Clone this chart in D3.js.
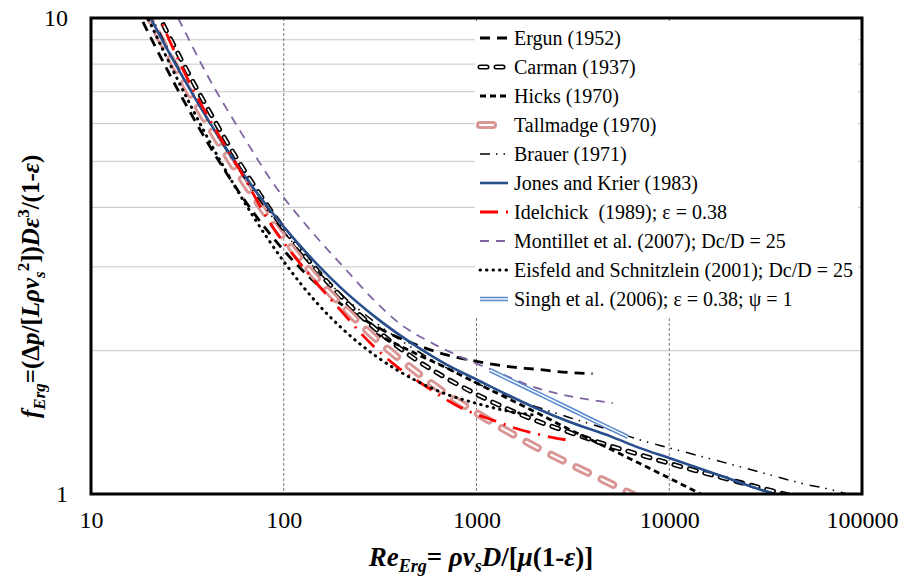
<!DOCTYPE html>
<html>
<head>
<meta charset="utf-8">
<script src="https://cdn.jsdelivr.net/npm/d3@7"></script>
<style>
  body { margin: 0; background: #fff; }
  svg text { font-family: "Liberation Serif", Tinos, "Times New Roman", Times, "DejaVu Serif", serif; }
</style>
</head>
<body>
<div id="chart"></div>
<script>
// Values (Re_Erg, f_Erg)
const ergunRe = [17, 20, 25, 30, 40, 50, 70, 100, 150, 200, 300, 500, 700, 1000, 1500, 2000, 3000, 4000];
const ergunF  = [10.57, 9.25, 7.75, 6.75, 5.5, 4.75, 3.89, 3.25, 2.75, 2.5, 2.25, 2.05, 1.96, 1.9, 1.85, 1.83, 1.8, 1.79];

const carmanRe = [20, 25, 30, 40, 50, 70, 100, 150, 200, 300, 500, 700, 1000, 2000, 3000, 5000, 7000, 10000, 20000, 30000, 40000, 50000];
const carmanF  = [11.13, 9.28, 8.04, 6.49, 5.54, 4.45, 3.61, 2.94, 2.59, 2.22, 1.9, 1.75, 1.62, 1.43, 1.35, 1.26, 1.21, 1.16, 1.075, 1.03, 0.999, 0.976];

const hicksRe = [300, 500, 700, 1000, 2000, 3000, 5000, 7000, 10000, 15000];
const hicksF  = [2.17, 1.96, 1.84, 1.71, 1.49, 1.37, 1.24, 1.16, 1.08, 0.994];

const tallmadgeRe = [19, 22, 25, 30, 40, 50, 70, 100, 150, 200, 300, 500, 700, 1000, 2000, 3000, 5000, 7000];
const tallmadgeF  = [10.46, 9.33, 8.46, 7.38, 6.02, 5.19, 4.21, 3.45, 2.82, 2.49, 2.12, 1.79, 1.62, 1.48, 1.26, 1.16, 1.05, 0.98];

const brauerRe = [19, 20, 25, 30, 40, 50, 70, 100, 150, 200, 300, 500, 700, 1000, 2000, 3000, 5000, 7000, 10000, 20000, 30000, 50000, 70000, 90000];
const brauerF  = [10.73, 10.3, 8.65, 7.54, 6.14, 5.3, 4.31, 3.56, 2.94, 2.62, 2.29, 1.99, 1.84, 1.71, 1.53, 1.45, 1.36, 1.3, 1.25, 1.16, 1.11, 1.05, 1.02, 0.99];

const jonesRe = [20, 25, 30, 40, 50, 70, 100, 150, 200, 300, 500, 700, 1000, 2000, 3000, 5000, 7000, 10000, 20000, 30000, 40000];
const jonesF  = [10.14, 8.56, 7.5, 6.16, 5.34, 4.38, 3.64, 3.03, 2.7, 2.35, 2.03, 1.87, 1.74, 1.52, 1.42, 1.32, 1.25, 1.19, 1.08, 1.02, 0.985];

const idelchickRe = [21, 22.8, 30, 44, 60, 85, 130, 196, 270, 388, 550, 776, 955, 1215, 1540, 2017, 2565, 2900];
const idelchickF  = [10.9, 10.0, 7.8, 5.85, 4.75, 3.71, 2.95, 2.44, 2.11, 1.85, 1.68, 1.54, 1.48, 1.43, 1.38, 1.34, 1.31, 1.3];

const montilletRe = [26, 28.3, 40, 60, 88, 137, 204, 292, 400, 595, 855, 1300, 1960, 3160, 5100];
const montilletF  = [10.7, 10.0, 7.6, 5.75, 4.5, 3.59, 3.0, 2.56, 2.28, 2.07, 1.93, 1.8, 1.68, 1.6, 1.553];

const eisfeldRe = [18, 20, 25, 30, 40, 50, 70, 100, 150, 200, 300, 500, 700, 1000, 1500, 2000];
const eisfeldF  = [10.82, 9.88, 8.18, 7.05, 5.63, 4.78, 3.81, 3.08, 2.51, 2.23, 1.95, 1.72, 1.62, 1.55, 1.49, 1.465];

const singhRe = [1176, 2000, 3000, 4000, 5000, 6100];
const singhF  = [1.82, 1.64, 1.515, 1.43, 1.37, 1.318];

const legendLabels = [
    "Ergun (1952)",
    "Carman (1937)",
    "Hicks (1970)",
    "Tallmadge (1970)",
    "Brauer (1971)",
    "Jones and Krier (1983)",
    "Idelchick  (1989); \u03b5 = 0.38",
    "Montillet et al. (2007); Dc/D = 25",
    "Eisfeld and Schnitzlein (2001); Dc/D = 25",
    "Singh et al. (2006); \u03b5 = 0.38; \u03c8 = 1"
];

const xTicks = [10, 100, 1000, 10000, 100000];
const yTicks = [1, 10];
const yGrid = [2, 3, 4, 5, 6, 7, 8, 9];
const xGrid = [100, 1000, 10000];

// Series table built from the arrays above
const series = [
    { re: ergunRe, f: ergunF },
    { re: carmanRe, f: carmanF },
    { re: hicksRe, f: hicksF },
    { re: tallmadgeRe, f: tallmadgeF },
    { re: brauerRe, f: brauerF },
    { re: jonesRe, f: jonesF },
    { re: idelchickRe, f: idelchickF },
    { re: montilletRe, f: montilletF },
    { re: eisfeldRe, f: eisfeldF },
    { re: singhRe, f: singhF }
].map((s, i) => ({ label: legendLabels[i], points: s.re.map((r, j) => [r, s.f[j]]) }));

// Line styles, one list of strokes per series (drawn in order, e.g. outline + inner white)
const styles = [
    [{ color: "#000", width: 2.8, dash: "10 7" }],
    [{ color: "#000", width: 5, dash: "7 9", cap: "round" }, { color: "#fff", width: 1.8, dash: "7 9", cap: "round" }],
    [{ color: "#000", width: 2.8, dash: "6 4" }],
    [{ color: "#d99694", width: 8, dash: "13 15", cap: "round" }, { color: "#fff", width: 2.2, dash: "13 15", cap: "round" }],
    [{ color: "#000", width: 1.5, dash: "10 6 1.5 6 1.5 7" }],
    [{ color: "#284f8c", width: 2.6 }],
    [{ color: "#ff0000", width: 2.8, dash: "18 8 2 8" }],
    [{ color: "#8064a2", width: 1.8, dash: "9 7" }],
    [{ color: "#000", width: 3, dash: "0.5 6", cap: "round" }],
    [{ color: "#5a8ad0", width: 4.5 }, { color: "#fff", width: 1.4 }]
];

const serif = "'Liberation Serif', Tinos, 'Times New Roman', Times, 'DejaVu Serif', serif";

const W = 906, H = 579;
const plot = { left: 91, right: 862, top: 18, bottom: 494 };

const svg = d3.select("#chart")
    .append("svg")
    .attr("width", W)
    .attr("height", H)
    .style("font-family", serif);

svg.append("rect").attr("width", W).attr("height", H).attr("fill", "#fff");

const x = d3.scaleLog().domain([10, 100000]).range([plot.left, plot.right]);
const y = d3.scaleLog().domain([1, 10]).range([plot.bottom, plot.top]);

// horizontal gridlines
svg.append("g")
    .selectAll("line")
    .data(yGrid)
    .enter()
    .append("line")
    .attr("x1", plot.left)
    .attr("x2", plot.right)
    .attr("y1", d => y(d))
    .attr("y2", d => y(d))
    .attr("stroke", "#c6c6c6")
    .attr("stroke-width", 1);

// vertical dashed gridlines
svg.append("g")
    .selectAll("line")
    .data(xGrid)
    .enter()
    .append("line")
    .attr("x1", d => x(d))
    .attr("x2", d => x(d))
    .attr("y1", plot.top)
    .attr("y2", plot.bottom)
    .attr("stroke", "#555")
    .attr("stroke-width", 0.8)
    .attr("stroke-dasharray", "3 2");

// Legend background hides the grid behind it
const legend = svg.append("g");
legend.append("rect")
    .attr("x", 475)
    .attr("y", 22)
    .attr("width", 383)
    .attr("height", 295)
    .attr("fill", "#fff");

// Curves
svg.append("clipPath")
    .attr("id", "plot-clip")
    .append("rect")
    .attr("x", plot.left)
    .attr("y", plot.top)
    .attr("width", plot.right - plot.left)
    .attr("height", plot.bottom - plot.top);

const line = d3.line()
    .x(d => x(d[0]))
    .y(d => y(d[1]))
    .curve(d3.curveMonotoneX);

const curves = svg.append("g").attr("clip-path", "url(#plot-clip)");

series.forEach((s, i) => {
    styles[i].forEach(st => {
        curves.append("path")
            .datum(s.points)
            .attr("fill", "none")
            .attr("stroke", st.color)
            .attr("stroke-width", st.width)
            .attr("stroke-dasharray", st.dash || null)
            .attr("stroke-linecap", st.cap || "butt")
            .attr("d", line);
    });
});

// Legend entries
series.forEach((s, i) => {
    const ly = 38 + i * 29;
    styles[i].forEach(st => {
        legend.append("line")
            .attr("x1", 480)
            .attr("x2", 508)
            .attr("y1", ly)
            .attr("y2", ly)
            .attr("stroke", st.color)
            .attr("stroke-width", st.width)
            .attr("stroke-dasharray", st.dash || null)
            .attr("stroke-linecap", st.cap || "butt");
    });
    legend.append("text")
        .attr("x", 514)
        .attr("y", ly + 6.5)
        .attr("font-size", 20)
        .style("white-space", "pre")
        .text(s.label);
});

// Plot frame
svg.append("rect")
    .attr("x", plot.left)
    .attr("y", plot.top)
    .attr("width", plot.right - plot.left)
    .attr("height", plot.bottom - plot.top)
    .attr("fill", "none")
    .attr("stroke", "#000")
    .attr("stroke-width", 3);

// Axes (labels only)
const xAxis = svg.append("g")
    .attr("transform", `translate(0,${plot.bottom})`)
    .call(d3.axisBottom(x).tickValues(xTicks).tickFormat(d3.format("d")).tickSize(0).tickPadding(17));
xAxis.attr("font-family", null);
xAxis.select(".domain").remove();
xAxis.selectAll("text")
    .attr("font-size", 24)
    .attr("fill", "#000");

const yAxis = svg.append("g")
    .attr("transform", `translate(${plot.left},0)`)
    .call(d3.axisLeft(y).tickValues(yTicks).tickFormat(d3.format("d")).tickSize(0).tickPadding(23));
yAxis.attr("font-family", null);
yAxis.select(".domain").remove();
yAxis.selectAll("text")
    .attr("font-size", 24)
    .attr("fill", "#000");

// X axis title
const xt = svg.append("text")
    .attr("x", 481)
    .attr("y", 566)
    .attr("text-anchor", "middle")
    .attr("font-size", 27)
    .attr("font-weight", "bold");
xt.append("tspan").attr("font-style", "italic").text("Re");
xt.append("tspan").attr("font-style", "italic").attr("font-size", 18).attr("dy", 6).text("Erg");
xt.append("tspan").attr("dy", -6).text("= ");
xt.append("tspan").attr("font-style", "italic").text("\u03c1v");
xt.append("tspan").attr("font-style", "italic").attr("font-size", 18).attr("dy", 6).text("s");
xt.append("tspan").attr("font-style", "italic").attr("dy", -6).text("D");
xt.append("tspan").text("/[");
xt.append("tspan").attr("font-style", "italic").text("\u03bc");
xt.append("tspan").text("(1-");
xt.append("tspan").attr("font-style", "italic").text("\u03b5");
xt.append("tspan").text(")]");

// Y axis title, written upward from its bottom end
const yt = svg.append("text")
    .attr("transform", "translate(39,418) rotate(-90)")
    .attr("text-anchor", "start")
    .attr("font-size", 25)
    .attr("font-weight", "bold");
yt.append("tspan").attr("font-style", "italic").text("f");
yt.append("tspan").attr("font-style", "italic").attr("font-size", 17).attr("dy", 6).text("Erg");
yt.append("tspan").attr("dy", -6).text("=(\u0394");
yt.append("tspan").attr("font-style", "italic").text("p");
yt.append("tspan").text("/[");
yt.append("tspan").attr("font-style", "italic").text("L\u03c1v");
yt.append("tspan").attr("font-style", "italic").attr("font-size", 17).attr("dy", 6).text("s");
yt.append("tspan").attr("font-size", 17).attr("dy", -16).text("2");
yt.append("tspan").attr("dy", 10).text("])");
yt.append("tspan").attr("font-style", "italic").text("D\u03b5");
yt.append("tspan").attr("font-size", 17).attr("dy", -10).text("3");
yt.append("tspan").attr("dy", 10).text("/(1-");
yt.append("tspan").attr("font-style", "italic").text("\u03b5");
yt.append("tspan").text(")");
</script>
</body>
</html>
